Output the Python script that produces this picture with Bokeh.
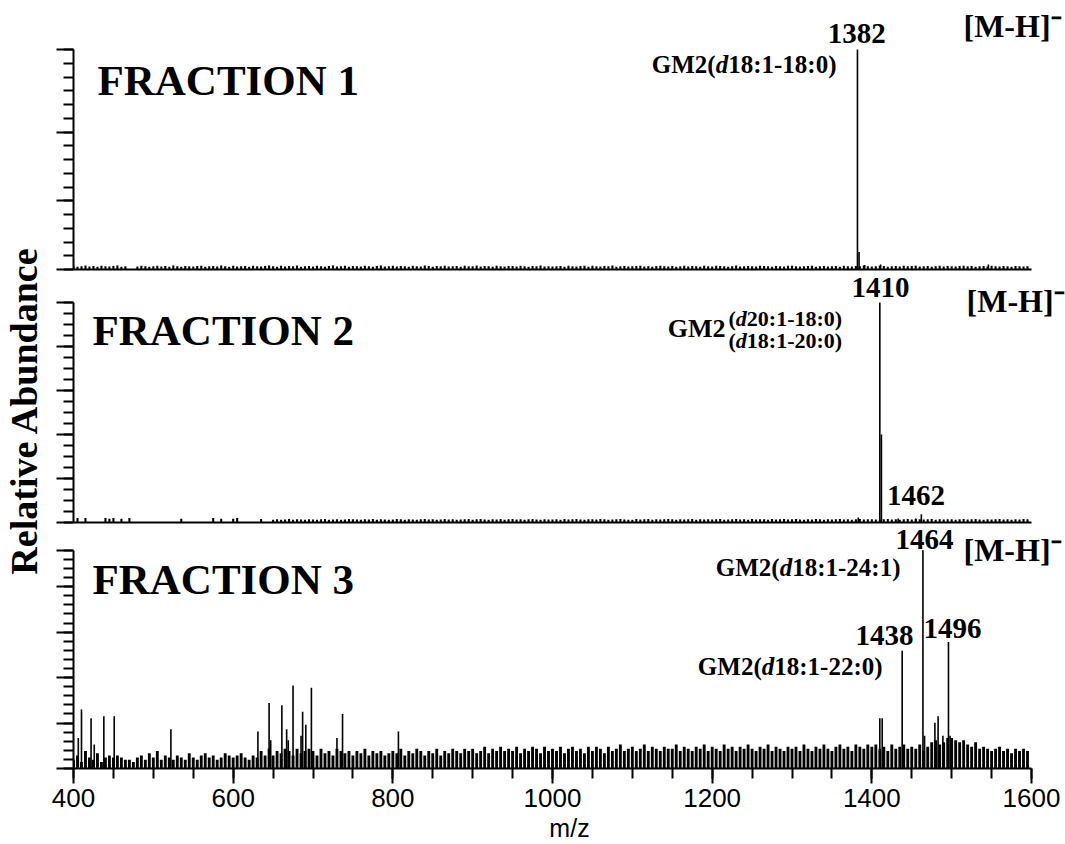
from math import pi
from bokeh.plotting import figure
from bokeh.models import Range1d, FixedTicker, Label
from bokeh.layouts import row, column
from bokeh.embed import file_html
from bokeh.resources import INLINE

# ---------------- data ----------------
mz_grid = list(range(400, 1600, 5))          # sampling grid of the noise comb (m/z)

panel_titles = ["FRACTION 1", "FRACTION 2", "FRACTION 3"]
ion_label = "[M-H]\u207b"
x_tick_labels = [400, 600, 800, 1000, 1200, 1400, 1600]

# Fraction 1 : low-level noise (% relative abundance)
noise1 = [
    1.7, 1.3, 1.5, 1.8, 1.4, 1.6, 1.2, 1.7, 1.5, 1.4,
    1.6, 1.8, 1.3, 1.5, 0.0, 0.0, 1.4, 1.7, 1.5, 1.3,
    1.5, 1.7, 1.4, 1.6, 1.3, 1.8, 1.5, 1.2, 1.6, 1.5,
    1.4, 1.6, 1.7, 1.3, 1.5, 1.6, 1.4, 1.8, 1.5, 1.3,
    1.7, 1.4, 1.5, 1.6, 1.3, 1.7, 1.5, 1.4, 1.6, 1.8,
    1.5, 1.3, 1.7, 1.4, 1.6, 1.5, 1.8, 1.3, 1.5, 1.6,
    1.4, 1.7, 1.5, 1.3, 1.6, 1.8, 1.4, 1.5, 1.7, 1.3,
    1.6, 1.5, 1.4, 1.7, 1.5, 1.3, 1.6, 1.8, 1.4, 1.5,
    1.7, 1.4, 1.6, 1.5, 1.3, 1.7, 1.5, 1.4, 1.8, 1.6,
    1.3, 1.6, 1.5, 1.7, 1.4, 1.5, 1.6, 1.3, 1.7, 1.5,
    1.5, 1.8, 1.4, 1.6, 1.5, 1.3, 1.7, 1.5, 1.4, 1.6,
    1.6, 1.4, 1.7, 1.5, 1.3, 1.6, 1.5, 1.8, 1.4, 1.5,
    1.4, 1.5, 1.6, 1.3, 1.7, 1.5, 1.4, 1.6, 1.7, 1.3,
    1.7, 1.5, 1.4, 1.6, 1.5, 1.8, 1.3, 1.5, 1.6, 1.4,
    1.5, 1.6, 1.7, 1.4, 1.5, 1.3, 1.6, 1.7, 1.5, 1.4,
    1.6, 1.3, 1.5, 1.7, 1.4, 1.6, 1.5, 1.3, 1.7, 1.5,
    1.4, 1.7, 1.6, 1.5, 1.3, 1.5, 1.8, 1.4, 1.5, 1.6,
    1.5, 1.4, 1.7, 1.6, 1.5, 1.3, 1.6, 1.5, 1.4, 1.7,
    1.7, 1.5, 1.4, 1.5, 1.6, 1.7, 1.3, 1.5, 1.6, 1.4,
    1.5, 1.6, 1.3, 1.7, 1.5, 1.4, 1.6, 1.5, 1.8, 1.5,
    1.4, 1.5, 1.7, 1.6, 1.3, 1.5, 1.6, 1.4, 1.7, 1.5,
    1.6, 1.7, 1.4, 1.5, 1.6, 1.3, 1.5, 1.7, 1.4, 1.6,
    1.5, 1.4, 1.6, 1.7, 1.5, 1.6, 1.3, 1.5, 1.6, 1.4,
    1.7, 1.5, 1.4, 1.6, 1.5, 1.3, 1.6, 1.5, 1.4, 1.5,
]
peaks1_mz = [1382, 1384, 1391, 1411, 1546]
peaks1_h = [100, 8, 2.0, 2.3, 2.3]

# Fraction 2
noise2 = [
    0.0, 2.0, 0.0, 2.0, 0.0, 0.0, 0.0, 0.0, 2.0, 1.7,
    2.0, 0.0, 1.7, 0.0, 2.0, 0.0, 0.0, 0.0, 0.0, 0.0,
    0.0, 0.0, 0.0, 0.0, 0.0, 0.0, 0.0, 1.7, 0.0, 0.0,
    0.0, 0.0, 0.0, 0.0, 0.0, 2.0, 0.0, 1.7, 0.0, 0.0,
    1.7, 2.0, 0.0, 0.0, 0.0, 0.0, 0.0, 1.6, 0.0, 0.0,
    1.3, 1.5, 1.2, 1.4, 1.6, 1.3, 1.5, 1.4, 1.2, 1.5,
    1.4, 1.3, 1.5, 1.6, 1.3, 1.4, 1.5, 1.2, 1.4, 1.6,
    1.5, 1.4, 1.3, 1.5, 1.4, 1.6, 1.3, 1.5, 1.4, 1.3,
    1.4, 1.6, 1.5, 1.3, 1.5, 1.4, 1.2, 1.5, 1.6, 1.4,
    1.5, 1.3, 1.4, 1.6, 1.4, 1.5, 1.3, 1.4, 1.5, 1.6,
    1.3, 1.5, 1.6, 1.4, 1.3, 1.5, 1.4, 1.6, 1.3, 1.5,
    1.6, 1.4, 1.5, 1.3, 1.5, 1.6, 1.4, 1.3, 1.5, 1.4,
    1.4, 1.5, 1.3, 1.6, 1.4, 1.5, 1.6, 1.4, 1.3, 1.5,
    1.5, 1.4, 1.6, 1.5, 1.3, 1.4, 1.5, 1.6, 1.4, 1.3,
    1.3, 1.6, 1.4, 1.5, 1.6, 1.3, 1.5, 1.4, 1.5, 1.6,
    1.5, 1.3, 1.5, 1.4, 1.5, 1.6, 1.3, 1.5, 1.4, 1.5,
    1.4, 1.5, 1.6, 1.3, 1.4, 1.5, 1.6, 1.4, 1.5, 1.3,
    1.6, 1.4, 1.5, 1.5, 1.3, 1.6, 1.4, 1.5, 1.6, 1.4,
    1.5, 1.6, 1.4, 1.3, 1.5, 1.4, 1.6, 1.5, 1.3, 1.5,
    1.4, 1.5, 1.6, 1.4, 1.5, 1.3, 1.5, 1.6, 1.4, 1.5,
    1.5, 1.4, 1.3, 1.5, 1.6, 1.4, 1.5, 1.3, 1.5, 1.6,
    1.4, 1.6, 1.5, 1.4, 1.5, 1.6, 1.3, 1.5, 1.4, 1.5,
    1.5, 1.3, 1.5, 1.6, 1.4, 1.5, 1.6, 1.4, 1.3, 1.5,
    1.4, 1.5, 1.6, 1.4, 1.5, 1.3, 1.5, 1.4, 1.6, 1.5,
]
peaks2_mz = [1383, 1410, 1412, 1433, 1455, 1462]
peaks2_h = [2.3, 100, 40, 1.8, 1.8, 3.8]

# Fraction 3
noise3 = [
    4, 6, 3, 8, 5, 4, 7, 3, 5, 6,
    5, 6, 5, 4, 4, 3, 5, 6, 4, 7,
    5, 8, 4, 6, 5, 4, 6, 5, 4, 7,
    5, 4, 6, 7, 5, 6, 4, 5, 7, 6,
    5, 6, 7, 5, 4, 6, 5, 8, 6, 9,
    6, 8, 7, 9, 8, 6, 9, 7, 8, 9,
    8, 6, 9, 7, 8, 6, 9, 8, 7, 8,
    6, 8, 7, 9, 6, 8, 7, 8, 6, 7,
    8, 7, 9, 6, 8, 7, 9, 8, 6, 8,
    7, 9, 6, 8, 7, 9, 8, 7, 9, 8,
    9, 7, 8, 10, 7, 9, 8, 10, 8, 9,
    8, 10, 7, 9, 8, 10, 9, 7, 10, 8,
    9, 8, 10, 7, 9, 10, 8, 9, 7, 10,
    8, 10, 9, 7, 10, 8, 9, 11, 8, 9,
    10, 8, 9, 11, 8, 10, 9, 8, 10, 9,
    9, 11, 8, 10, 9, 8, 10, 9, 11, 8,
    10, 9, 8, 11, 9, 10, 8, 10, 9, 11,
    9, 8, 10, 9, 11, 8, 10, 9, 8, 10,
    9, 10, 8, 11, 9, 8, 10, 9, 11, 9,
    8, 10, 11, 9, 10, 8, 11, 10, 9, 11,
    10, 11, 9, 10, 8, 11, 9, 10, 11, 9,
    10, 9, 11, 8, 10, 12, 13, 11, 12, 14,
    14, 13, 12, 13, 11, 10, 12, 9, 10, 9,
    8, 9, 10, 8, 9, 7, 9, 8, 9, 8,
]
peaks3_mz = [406, 410, 422, 426, 438, 451, 522, 631, 645, 647, 661, 667, 669,
             675, 685, 687, 691, 698, 730, 737, 807, 1410, 1413, 1438, 1464,
             1466, 1479, 1483, 1489, 1496, 1498]
peaks3_h = [14, 27, 23, 11, 24, 24, 18, 17, 30, 13, 29, 18, 13,
            38, 15, 26, 20, 37, 14, 25, 17, 23, 23, 54, 100,
            15, 21, 24, 15, 58, 15]

# ---------------- geometry / styling ----------------
SERIF = "Liberation Serif"
SANS = "Liberation Sans"
LEFT_W = 42            # width of the y-title column
W_MAIN = 1065 - LEFT_W
FRAME_L = 31           # space for the left axis ticks
PX_PER_MZ = 958 / 1200.0
X_END = 400 + (W_MAIN - FRAME_L) / PX_PER_MZ
PX_PER_PCT = 2.2

# Times-bold advance widths (em) used to chain the mixed-style labels
ADV = {c: 0.5 for c in "0123456789"}
ADV.update({":": 0.333, "-": 0.333, "(": 0.333, ")": 0.333})


def text_w(s, size):
    return sum(ADV.get(c, 0.5) for c in s) * size


def lab(p, x, y, text, size, align="left", style="bold", x_offset=0, font=SERIF):
    p.add_layout(Label(x=x, y=y, text=text, text_font=font, text_font_style=style,
                       text_font_size=f"{size}px", text_align=align,
                       text_baseline="middle", x_offset=x_offset,
                       text_color="black"))


def gm2_label(p, x_right, y, rest, size):
    w = text_w(rest, size)
    lab(p, x_right, y, rest, size, align="right")
    lab(p, x_right, y, "d", size, align="right", style="bold italic", x_offset=-w)
    lab(p, x_right, y, "GM2(", size, align="right", x_offset=-w - 0.5 * size)


def paren_label(p, x_left, y, rest, size):
    lab(p, x_left, y, "(", size)
    lab(p, x_left, y, "d", size, style="bold italic", x_offset=0.333 * size)
    lab(p, x_left, y, rest, size, x_offset=0.833 * size)


def style_axis(ax):
    ax.major_tick_in = 0
    ax.minor_tick_in = 0
    ax.major_tick_line_width = 2
    ax.minor_tick_line_width = 2
    ax.axis_line_width = 2
    ax.axis_line_color = "black"
    ax.major_tick_line_color = "black"
    ax.minor_tick_line_color = "black"


def make_panel(height, frame_h, n_int, major_idx, show_x):
    bottom = height - frame_h
    y_top = 100.0 * frame_h / (100 * PX_PER_PCT)
    p = figure(width=W_MAIN, height=height, x_range=Range1d(400, X_END),
               y_range=Range1d(0, y_top), output_backend="svg",
               toolbar_location=None, min_border_left=FRAME_L,
               min_border_right=0, min_border_top=0,
               min_border_bottom=bottom,
               x_axis_location="below", y_axis_location="left")
    p.grid.visible = False
    p.outline_line_color = None
    p.background_fill_color = "white"
    p.border_fill_color = "white"
    step = 100.0 / n_int
    ya = p.yaxis[0]
    ya.bounds = (0, 100)
    ya.ticker = FixedTicker(ticks=[i * step for i in major_idx],
                            minor_ticks=[i * step for i in range(n_int + 1)])
    ya.major_label_text_color = None
    ya.major_label_text_font_size = "1px"
    ya.major_label_standoff = 0
    ya.major_tick_out = 17
    ya.minor_tick_out = 10
    style_axis(ya)
    xa = p.xaxis[0]
    xa.bounds = (x_tick_labels[0], x_tick_labels[-1])
    style_axis(xa)
    if not show_x:
        xa.ticker = FixedTicker(ticks=[], minor_ticks=[])
        xa.major_tick_out = 0
        xa.minor_tick_out = 0
        xa.major_label_text_color = None
        xa.major_label_text_font_size = "1px"
        xa.major_label_standoff = 0
    return p


def draw_spectrum(p, noise, pk_mz, pk_h, noise_w):
    p.vbar(x=mz_grid, top=noise, bottom=0, width=noise_w,
           fill_color="black", line_color=None)
    p.segment(x0=pk_mz, y0=[0] * len(pk_mz), x1=pk_mz, y1=pk_h,
              line_color="black", line_width=1.6)


# ---------------- panel 1 ----------------
p1 = make_panel(271, 269, 16, [0, 5, 10, 16], False)
draw_spectrum(p1, noise1, peaks1_mz, peaks1_h, 2.6)
lab(p1, 430, 85.9, panel_titles[0], 43)
lab(p1, 1381, 107.3, "1382", 29, align="center")
gm2_label(p1, 1355.7, 93.2, "18:1-18:0)", 25)
lab(p1, 1514.8, 110.9, ion_label, 32)

# ---------------- panel 2 ----------------
p2 = make_panel(253, 251, 20, [0, 4, 8, 12, 16, 20], False)
draw_spectrum(p2, noise2, peaks2_mz, peaks2_h, 2.6)
lab(p2, 423.8, 87.3, panel_titles[1], 43)
lab(p2, 1411, 106.6, "1410", 29, align="center")
lab(p2, 1518.6, 100.9, ion_label, 32)
lab(p2, 1216.7, 88.2, "GM2", 26, align="right")
paren_label(p2, 1220.5, 92.7, "20:1-18:0)", 22)
paren_label(p2, 1220.5, 82.7, "18:1-20:0)", 22)
lab(p2, 1455.3, 12.3, "1462", 29, align="center")

# ---------------- panel 3 ----------------
p3 = make_panel(320, 246, 24, [0, 5, 10, 15, 20, 24], True)
draw_spectrum(p3, noise3, peaks3_mz, peaks3_h, 3.6)
lab(p3, 423.8, 86.4, panel_titles[2], 43)
lab(p3, 1466, 104.8, "1464", 29, align="center")
lab(p3, 1514.8, 100.2, ion_label, 32)
gm2_label(p3, 1435.9, 92.3, "18:1-24:1)", 25)
lab(p3, 1415.9, 60.9, "1438", 29, align="center")
lab(p3, 1501, 64.1, "1496", 29, align="center")
gm2_label(p3, 1413.4, 46.8, "18:1-22:0)", 25)

xa = p3.xaxis[0]
xa.ticker = FixedTicker(ticks=x_tick_labels, minor_ticks=list(range(400, 1601, 50)))
xa.major_tick_out = 15
xa.minor_tick_out = 10
xa.major_label_text_font = SANS
xa.major_label_text_font_size = "26px"
xa.major_label_text_color = "black"
xa.major_label_standoff = 5
xa.axis_label = "m/z"
xa.axis_label_text_font = SANS
xa.axis_label_text_font_style = "normal"
xa.axis_label_text_font_size = "25px"
xa.axis_label_text_color = "black"
xa.axis_label_standoff = 4

# ---------------- y title column ----------------
left = figure(width=LEFT_W, height=844, x_range=Range1d(0, LEFT_W),
              y_range=Range1d(0, 844), output_backend="svg",
              toolbar_location=None, min_border=0, min_border_left=0,
              min_border_right=0, min_border_top=0, min_border_bottom=0,
              x_axis_location=None, y_axis_location=None)
left.grid.visible = False
left.outline_line_color = None
left.add_layout(Label(x=23, y=434, text="Relative Abundance", angle=pi / 2,
                      text_align="center", text_baseline="middle",
                      text_font=SERIF, text_font_style="bold",
                      text_font_size="38px", text_color="black"))

layout = row(left, column(p1, p2, p3, spacing=0), spacing=0)
open("out.html", "w").write(file_html(layout, INLINE))
